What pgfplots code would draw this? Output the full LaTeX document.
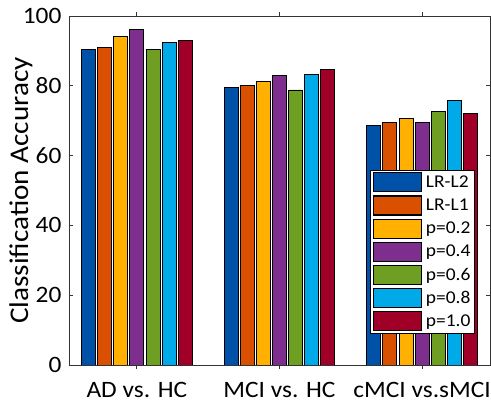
\documentclass[border=0pt]{standalone}
\usepackage{pgfplots}
\pgfplotsset{compat=1.18}
\usepackage{fontspec}
\setmainfont{Carlito}[FakeStretch=1.08]
\definecolor{cA}{RGB}{0,82,168}
\definecolor{cB}{RGB}{216,80,0}
\definecolor{cC}{RGB}{255,176,0}
\definecolor{cD}{RGB}{126,47,142}
\definecolor{cE}{RGB}{110,158,34}
\definecolor{cF}{RGB}{0,170,232}
\definecolor{cG}{RGB}{160,0,40}
\begin{document}
\begin{tikzpicture}
\useasboundingbox (-69pt,-41pt) rectangle (422pt,365pt);
\begin{axis}[
  at={(0,0)}, anchor=south west,
  scale only axis, width=421pt, height=349pt,
  xmin=-0.476, xmax=2.476, ymin=0, ymax=100,
  xtick={0,1,2},
  xticklabels={AD vs. HC, MCI vs. HC, cMCI vs.sMCI},
  ytick={0,20,40,60,80,100},
  tick align=inside, xtick pos=both, ytick pos=both,
  major tick length=4pt,
  axis line style={line width=0.8pt, black!80},
  tick style={line width=0.8pt, black!80},
  /pgf/number format/assume math mode=true,
  ticklabel style={font=\fontsize{23.5}{28}\selectfont},
  xticklabel style={yshift=-10pt},
  yticklabel style={xshift=-4pt},
  ylabel={Classification Accuracy},
  ylabel style={at={(axis description cs:-0.114,0.5)}, anchor=center, font=\fontsize{27}{32}\selectfont},
  ybar, bar width=0.098,
  every axis plot/.append style={draw=black, line width=0.8pt},
  legend image code/.code={\draw[#1, line width=1.1pt] (0pt,-9.5pt) rectangle (48pt,9.5pt);},
  legend style={at={(axis description cs:0.964,0.559)}, anchor=north east,
    draw=black, line width=0.8pt, font=\fontsize{18}{21}\selectfont,
    inner sep=2pt, row sep=3pt, legend cell align=left,
    /tikz/every odd column/.style={column sep=2pt}},
]
\addplot[fill=cA, bar shift=-0.339] coordinates {(0,90.3) (1,79.5) (2,68.6)};
\addplot[fill=cB, bar shift=-0.226] coordinates {(0,90.9) (1,80.1) (2,69.5)};
\addplot[fill=cC, bar shift=-0.113] coordinates {(0,94.1) (1,81.2) (2,70.6)};
\addplot[fill=cD, bar shift=0] coordinates {(0,96.2) (1,82.9) (2,69.5)};
\addplot[fill=cE, bar shift=0.113] coordinates {(0,90.5) (1,78.8) (2,72.7)};
\addplot[fill=cF, bar shift=0.226] coordinates {(0,92.4) (1,83.3) (2,75.8)};
\addplot[fill=cG, bar shift=0.339] coordinates {(0,93.0) (1,84.6) (2,72.0)};
\legend{LR-L2, LR-L1, p=0.2, p=0.4, p=0.6, p=0.8, p=1.0}
\end{axis}
\end{tikzpicture}
\end{document}
